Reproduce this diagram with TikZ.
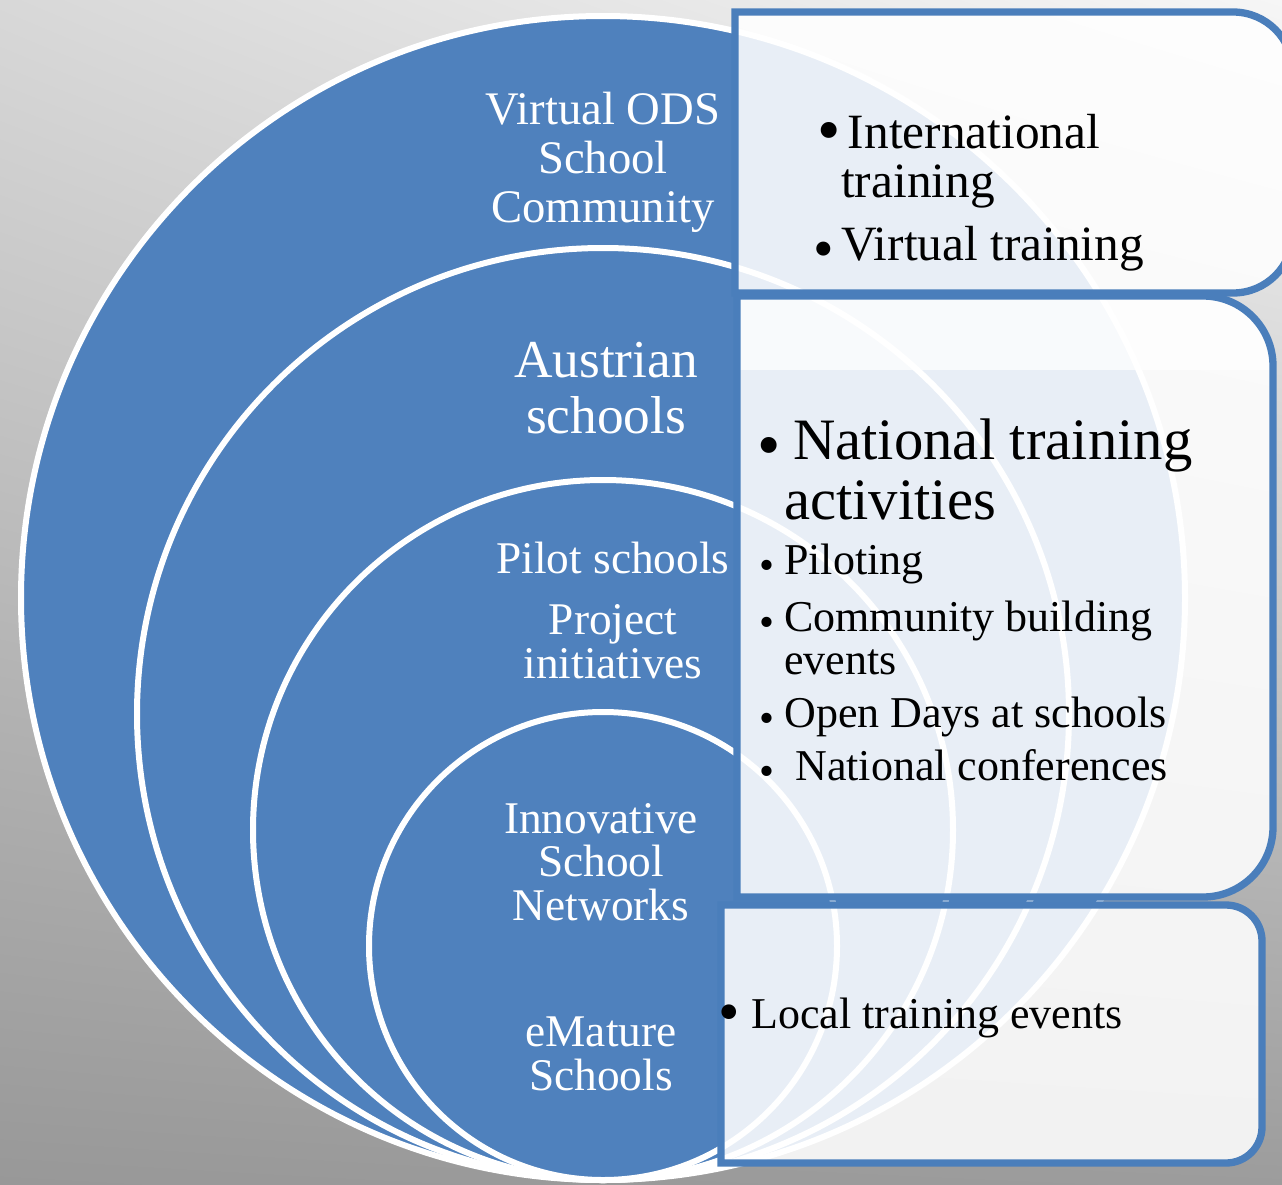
\documentclass[tikz,border=0pt]{standalone}
\usepackage{fontspec}
\setmainfont{Liberation Serif}
\usetikzlibrary{shadings}
\definecolor{ringblue}{HTML}{4F81BD}
\definecolor{panelblue}{HTML}{4A7EBB}
\definecolor{bgtl}{HTML}{D8D8D8}
\definecolor{bgtr}{HTML}{F6F6F6}
\definecolor{bgbl}{HTML}{989898}
\definecolor{bgbr}{HTML}{9C9C9C}

\begin{document}
\begin{tikzpicture}
  [x=0.75pt, y=-0.75pt,
   ring/.style={fill=ringblue, draw=white, line width=4.5pt},
   panel/.style={draw=panelblue, line width=5.5pt, fill=white, fill opacity=0.87},
   ring label/.style={text=white, align=center, anchor=base, inner sep=0pt},
   item/.style={text=black, align=left, anchor=base west, inner sep=0pt},
   bul/.style={text=black, anchor=base west, inner sep=0pt},
   small text/.style={font=\fontsize{33}{32.25}\selectfont},
   small bul/.style={bul, font=\fontsize{32}{32}\selectfont},
   big bul/.style={bul, font=\fontsize{50}{50}\selectfont},
   ring text/.style={font=\fontsize{34}{32.5}\selectfont}]
  \useasboundingbox (0,0) rectangle (1282,1185);
  \clip (0,0) rectangle (1282,1185);
  \shade[upper left=bgtl, upper right=bgtr, lower left=bgbl, lower right=bgbr]
    (0,0) rectangle (1282,1185);

  \draw[ring] (603,598) circle (582);
  \draw[ring] (603,714) circle (466);
  \draw[ring] (603,830) circle (350);
  \draw[ring] (603,946) circle (234);

  \draw[panel] (735,293) -- (735,12) -- (1233,12)
    arc[start angle=-90, end angle=0, radius=60] -- (1293,233)
    arc[start angle=0, end angle=90, radius=60] -- cycle;
  \begin{scope}
    \clip (737,897) -- (737,296) -- (1203,296)
      arc[start angle=-90, end angle=0, radius=70] -- (1273,827)
      arc[start angle=0, end angle=90, radius=70] -- cycle;
    \fill[white, fill opacity=0.7] (737,296) rectangle (1273,370);
  \end{scope}
  \draw[panel] (737,897) -- (737,296) -- (1203,296)
    arc[start angle=-90, end angle=0, radius=70] -- (1273,827)
    arc[start angle=0, end angle=90, radius=70] -- cycle;
  \draw[panel] (721,1163) -- (721,905) -- (1226,905)
    arc[start angle=-90, end angle=0, radius=36] -- (1262,1127)
    arc[start angle=0, end angle=90, radius=36] -- cycle;

  \node[ring label, font=\fontsize{35}{36.75}\selectfont] (virtual) at (603,222) {Virtual ODS\\School\\Community};
  \node[ring label, font=\fontsize{40}{42}\selectfont] (austrian) at (606,433) {Austrian\\schools};
  \node[ring label, ring text] (pilot) at (613,573) {Pilot schools};
  \node[ring label, ring text] (project) at (613,678) {Project\\initiatives};
  \node[ring label, ring text] (innovative) at (601,920) {Innovative\\School\\Networks};
  \node[ring label, ring text] (emature) at (601,1090) {eMature\\Schools};

  \node[big bul] (dot1) at (817,152) {\textbullet};
  \node[item, font=\fontsize{37}{36.75}\selectfont] (intl) at (841,197) {\hspace*{5pt}International\\training};
  \node[bul, font=\fontsize{44}{44}\selectfont] (dot2) at (813,268) {\textbullet};
  \node[item, font=\fontsize{37}{36.75}\selectfont] (virtualtr) at (841,260) {Virtual training};

  \node[big bul] (dot3) at (757,467) {\textbullet};
  \node[item, font=\fontsize{44}{44.5}\selectfont] (national) at (784,519) {\hspace*{6.75pt}National training\\activities};
  \node[small bul] (dot4) at (759,579) {\textbullet};
  \node[item, small text] (piloting) at (784,574) {Piloting};
  \node[small bul] (dot5) at (759,636) {\textbullet};
  \node[item, small text] (community) at (784,674) {Community building\\events};
  \node[small bul] (dot6) at (759,732) {\textbullet};
  \node[item, small text] (opendays) at (784,727) {Open Days at schools};
  \node[small bul] (dot7) at (759,785) {\textbullet};
  \node[item, small text] (conferences) at (795,780) {National conferences};

  \node[bul, font=\fontsize{46}{46}\selectfont] (dot8) at (718,1032) {\textbullet};
  \node[item, small text] (local) at (751,1028) {Local training events};
\end{tikzpicture}
\end{document}
